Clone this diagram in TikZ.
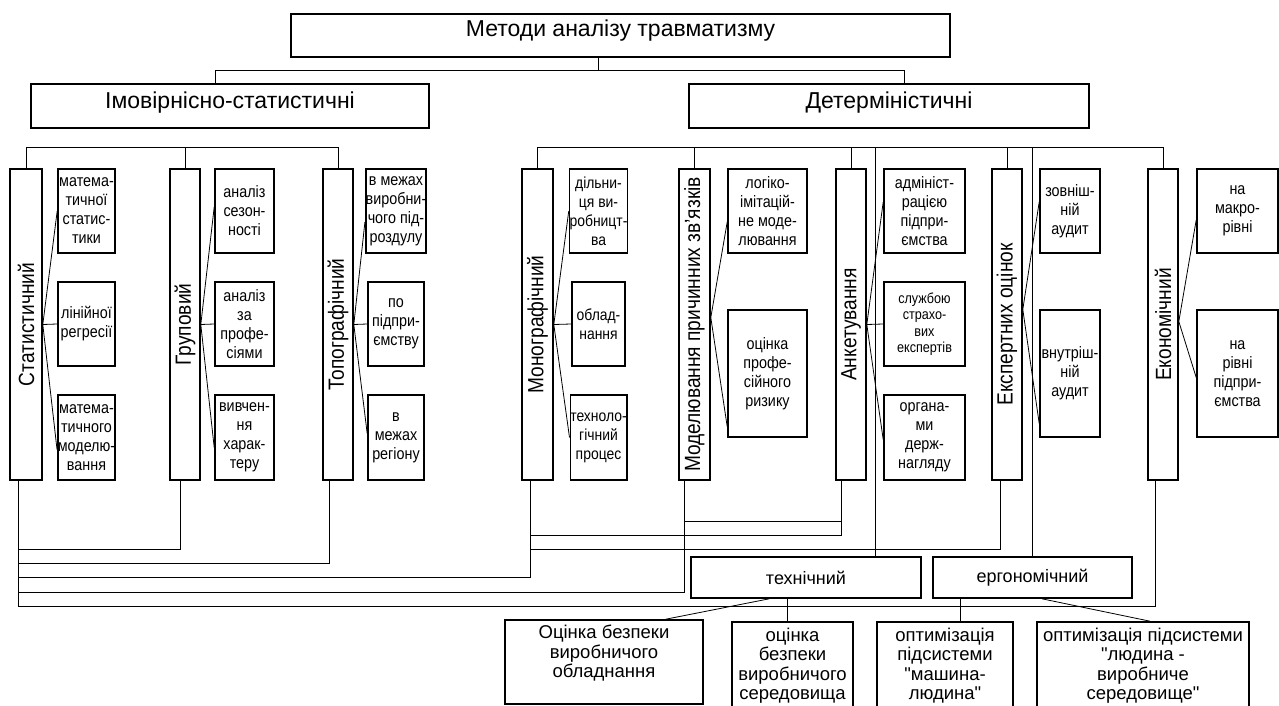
\documentclass[tikz,border=0pt]{standalone}
\usepackage{fontspec}
\setmainfont{Liberation Sans}
\newfontfamily\cond[FakeStretch=0.87]{Liberation Sans}
\newfontfamily\qf{Liberation Sans}
\newcommand{\q}{{\qf"}}
\usepackage{graphicx}
\usetikzlibrary{calc}
\begin{document}
\begin{tikzpicture}[x=1pt,y=-1pt,
  bx/.style={draw, line width=1.6pt, inner sep=0pt, align=center, fill=white},
  vb/.style={bx, minimum height=311pt, font=\cond\fontsize{22}{24}\selectfont},
  kid/.style={bx, font=\cond\fontsize{16.5}{19}\selectfont},
  bt/.style={bx, font=\fontsize{18.5}{19.5}\selectfont},
  cn/.style={line width=0.8pt}]
\useasboundingbox (0,0) rectangle (1279,706);
\fill[white] (0,0) rectangle (1279,706);

% top level
\node[bx, anchor=north, minimum width=659pt, text height=23pt, text depth=20pt, font=\fontsize{23}{26}\selectfont] (top) at (620.5,13) {Методи аналізу травматизму};
\node[bx, anchor=north, minimum width=398pt, text height=25pt, text depth=19pt, font=\fontsize{23}{26}\selectfont] (imov) at (230,83) {Імовірнісно-статистичні};
\node[bx, anchor=north, minimum width=400pt, text height=25pt, text depth=19pt, font=\fontsize{23}{26}\selectfont] (det) at (889,83) {Детерміністичні};

% vertical method boxes
\node[vb, minimum width=32pt] (stat) at (26,324.5) {\rotatebox{90}{Статистичний}};
\node[vb, minimum width=30pt] (grup) at (185,324.5) {\rotatebox{90}{Груповий}};
\node[vb, minimum width=30pt] (topo) at (338,324.5) {\rotatebox{90}{Топографічний}};
\node[vb, minimum width=31pt] (mono) at (537.5,324.5) {\rotatebox{90}{Монографічний}};
\node[vb, minimum width=31pt] (model) at (694.5,324.5) {\rotatebox{90}{Моделювання причинних зв’язків}};
\node[vb, minimum width=30pt] (anket) at (851,324.5) {\rotatebox{90}{Анкетування}};
\node[vb, minimum width=30pt] (expert) at (1007,324.5) {\rotatebox{90}{Експертних оцінок}};
\node[vb, minimum width=30pt] (econ) at (1163,324.5) {\rotatebox{90}{Економічний}};

% children
\node[kid, minimum width=57pt, minimum height=84pt] (s1) at (86.5,211) {матема-\\тичної\\статис-\\тики};
\node[kid, minimum width=57pt, minimum height=84pt] (s2) at (86.5,324) {лінійної\\регресії};
\node[kid, minimum width=57pt, minimum height=85pt] (s3) at (86.5,437.5) {матема-\\тичного\\моделю-\\вання};

\node[kid, minimum width=59pt, minimum height=84pt] (g1) at (244.5,211) {аналіз\\сезон-\\ності};
\node[kid, minimum width=59pt, minimum height=84pt] (g2) at (244.5,324) {аналіз\\за\\профе-\\сіями};
\node[kid, minimum width=59pt, minimum height=85pt] (g3) at (244.5,437.5) {вивчен-\\ня\\харак-\\теру};

\node[kid, minimum width=56pt, minimum height=84pt] (t1) at (396,211) {в межах\\виробни-\\чого під-\\роздулу};
\node[kid, minimum width=56pt, minimum height=84pt] (t2) at (396,324) {по\\підпри-\\ємству};
\node[kid, minimum width=56pt, minimum height=85pt] (t3) at (396,437.5) {в\\межах\\регіону};

\node[kid, minimum width=53pt, minimum height=84pt, font=\cond\fontsize{16}{19}\selectfont] (m1) at (598.5,211) {дільни-\\ця ви-\\робницт-\\ва};
\node[kid, minimum width=53pt, minimum height=84pt, font=\cond\fontsize{16}{19}\selectfont] (m2) at (598.5,324) {облад-\\нання};
\node[kid, minimum width=53pt, minimum height=85pt, font=\cond\fontsize{16}{19}\selectfont] (m3) at (598.5,437.5) {техноло-\\гічний\\процес};

\node[kid, minimum width=79pt, minimum height=84pt] (d1) at (767.5,211) {логіко-\\імітацій-\\не моде-\\лювання};
\node[kid, minimum width=79pt, minimum height=127pt] (d2) at (767.5,373.5) {оцінка\\профе-\\сійного\\ризику};

\node[kid, minimum width=81pt, minimum height=84pt] (a1) at (924.5,211) {адмініст-\\рацією\\підпри-\\ємства};
\node[kid, minimum width=81pt, minimum height=84pt, font=\cond\fontsize{14.5}{16.5}\selectfont] (a2) at (924.5,324) {службою\\страхо-\\вих\\експертів};
\node[kid, minimum width=81pt, minimum height=85pt] (a3) at (924.5,437.5) {органа-\\ми\\держ-\\нагляду};

\node[kid, minimum width=60pt, minimum height=84pt] (e1) at (1070,211) {зовніш-\\ній\\аудит};
\node[kid, minimum width=60pt, minimum height=127pt] (e2) at (1070,373.5) {внутріш-\\ній\\аудит};

\node[kid, minimum width=81pt, minimum height=84pt] (c1) at (1237.5,211) {на\\макро-\\рівні};
\node[kid, minimum width=81pt, minimum height=127pt] (c2) at (1237.5,373.5) {на\\рівні\\підпри-\\ємства};

% bottom boxes
\node[bx, minimum width=230pt, minimum height=41pt, font=\fontsize{18}{21}\selectfont] (tech) at (806,577.5) {технічний};
\node[bx, minimum width=199pt, minimum height=41pt, font=\fontsize{18}{21}\selectfont] (ergo) at (1032.5,577.5) {ергономічний};
\node[bt] (b1) at (604,662) {\parbox[c][84pt][t]{198pt}{\centering\rule{0pt}{18.5pt}Оцінка безпеки\\виробничого\\обладнання}};
\node[bt, minimum width=121pt, minimum height=87pt] (b2) at (792.5,665.5) {оцінка\\безпеки\\виробничого\\середовища};
\node[bt, minimum width=136pt, minimum height=87pt] (b3) at (945,665.5) {оптимізація\\підсистеми\\\q машина-\\людина\q};
\node[bt, minimum width=212pt, minimum height=87pt] (b4) at (1143,665.5) {оптимізація підсистеми\\\q людина -\\виробниче\\середовище\q};

% top connectors
\draw[cn] ([xshift=-22.5pt]top.south) -- ++(0,13) -| ([xshift=-15pt]imov.north);
\draw[cn] ([xshift=-22.5pt]top.south) -- ++(0,13) -| ([xshift=15pt]det.north);

% group buses
\draw[cn] (stat.north) -- ++(0,-21) -| (topo.north);
\draw[cn] (grup.north) -- ++(0,-21);
\draw[cn] (mono.north) -- ++(0,-21) -| (econ.north);
\draw[cn] (model.north) -- ++(0,-21);
\draw[cn] (anket.north) -- ++(0,-21);
\draw[cn] (expert.north) -- ++(0,-21);
\draw[cn] ([xshift=-46pt]tech.north east) -- ++(0,-409);
\draw[cn] (ergo.north) -- ++(0,-409);

% fans
\draw[cn] (stat.east) -- (s1.west);
\draw[cn] (stat.east) -- (s2.west);
\draw[cn] (stat.east) -- ([yshift=-12pt]s3.west);
\draw[cn] (grup.east) -- ([yshift=4pt]g1.west);
\draw[cn] (grup.east) -- (g2.west);
\draw[cn] (grup.east) -- ([yshift=-10pt]g3.west);
\draw[cn] (topo.east) -- ([yshift=-11pt]t1.west);
\draw[cn] (topo.east) -- (t2.west);
\draw[cn] (topo.east) -- ([yshift=4pt]t3.west);
\draw[cn] (mono.east) -- (m1.west);
\draw[cn] (mono.east) -- (m2.west);
\draw[cn] (mono.east) -- (m3.west);
\draw[cn] ([yshift=7pt]model.east) -- ([yshift=-11pt]d1.west);
\draw[cn] ([yshift=7pt]model.east) -- ([yshift=-53pt]d2.west);
\draw[cn] (anket.east) -- ([yshift=9pt]a1.west);
\draw[cn] (anket.east) -- (a2.west);
\draw[cn] (anket.east) -- ([yshift=-2pt]a3.west);
\draw[cn] ([yshift=15pt]expert.east) -- ([yshift=9pt]e1.west);
\draw[cn] ([yshift=15pt]expert.east) -- ([yshift=-50pt]e2.west);
\draw[cn] ([yshift=3pt]econ.east) -- ([yshift=-9pt]c1.west);
\draw[cn] ([yshift=3pt]econ.east) -- ([yshift=-4pt]c2.west);

% bottom routing
\draw[cn] ([xshift=-8pt]stat.south) -- ++(0,126) -| ([xshift=-8pt]econ.south);
\draw[cn] ([xshift=-8pt]stat.south) -- ++(0,69) -| ([xshift=-5pt]grup.south);
\draw[cn] ([xshift=-8pt]stat.south) -- ++(0,83) -| ([xshift=-9pt]topo.south);
\draw[cn] ([xshift=-8pt]stat.south) -- ++(0,97) -| ([xshift=-7pt]mono.south);
\draw[cn] ([xshift=-8pt]stat.south) -- ++(0,112) -| ([xshift=-10pt]model.south);
\draw[cn] ([xshift=-10pt]model.south) -- ++(0,41) -| ([xshift=-10pt]anket.south);
\draw[cn] ([xshift=-7pt]mono.south) -- ++(0,55) -| ([xshift=-10pt]anket.south);
\draw[cn] ([xshift=-7pt]mono.south) -- ++(0,69) -| ([xshift=-7pt]expert.south);

% bottom tree
\draw[cn] ([xshift=79pt]tech.south west) -- ([xshift=-38pt]b1.north east);
\draw[cn] ([xshift=-19pt]tech.south) -- ([xshift=-5.5pt]b2.north);
\draw[cn] ([xshift=-72.5pt]ergo.south) -- ([xshift=15pt]b3.north);
\draw[cn] ([xshift=9.5pt]ergo.south) -- ([xshift=7pt]b4.north);
\end{tikzpicture}
\end{document}
